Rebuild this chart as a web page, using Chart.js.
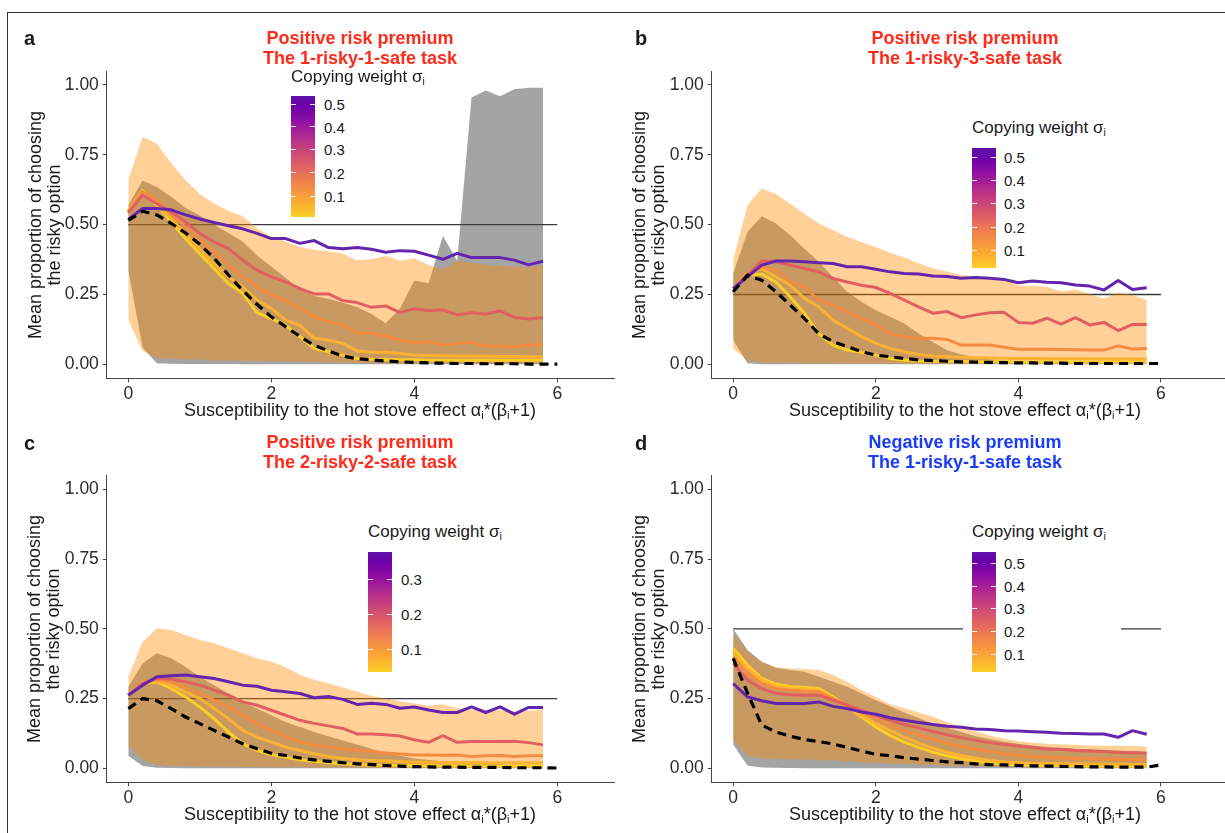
<!DOCTYPE html>
<html>
<head>
<meta charset="utf-8">
<script src="https://cdn.jsdelivr.net/npm/chart.js@4.4.1/dist/chart.umd.min.js"></script>
<style>
  body { margin: 0; background: #fff; font-family: "Liberation Sans", Arial, sans-serif; }
  #fig { position: relative; width: 1225px; height: 833px; overflow: hidden; background: #fff; }
  .frame { position: absolute; left: 7px; top: 12px; width: 1240px; height: 840px; border-left: 1px solid #333; border-top: 1px solid #333; }
  canvas { position: absolute; }
  .t { position: absolute; z-index: 2; white-space: nowrap; color: #1a1a1a; transform: translate(-50%, -50%); }
  .l { position: absolute; z-index: 2; white-space: nowrap; color: #1a1a1a; transform: translateY(-50%); }
  .head { font-weight: bold; font-size: 18px; line-height: 19.5px; text-align: center; }
  .letter { font-weight: bold; font-size: 20px; }
  .xt { font-size: 18px; }
  .yt { font-size: 18px; line-height: 19px; text-align: center; transform: translate(-50%, -50%) rotate(-90deg); }
  .lt { font-size: 17px; }
  .ll { font-size: 15px; }
  sub { font-size: 62%; vertical-align: -0.3em; line-height: 0; }
  .box { position: absolute; z-index: 1; background: #fff; }
  .bar { position: absolute; z-index: 2; background: linear-gradient(to top, #fccf25 0%, #fca636 14%, #f2844b 28%, #e16462 41%, #cc4778 54%, #b12a90 67%, #8f0da4 80%, #6a00a8 92%, #5d12a8 100%); }
  .tk { position: absolute; z-index: 3; height: 1px; width: 5px; background: rgba(255,255,255,0.9); }
</style>
</head>
<body>
<div id="fig"><div class="frame"></div></div>
<script>
// x positions of the simulated points
const xs = [0, 0.2, 0.4, 0.6, 0.8, 1, 1.2, 1.4, 1.6, 1.8, 2, 2.2, 2.4, 2.6, 2.8, 3, 3.2, 3.4, 3.6, 3.8, 4, 4.2, 4.4, 4.6, 4.8, 5, 5.2, 5.4, 5.6, 5.8];
const xsDash = xs.concat([6]);
const refX = [0, 6];
const xTicks = [0, 2, 4, 6];
const yTicks = [0, 0.25, 0.5, 0.75, 1];

// panel a: positive risk premium, 1-risky-1-safe
const aPurple = [0.519,0.558,0.558,0.553,0.535,0.52,0.508,0.496,0.485,0.469,0.45,0.45,0.433,0.443,0.418,0.414,0.418,0.412,0.401,0.407,0.405,0.391,0.376,0.397,0.382,0.382,0.382,0.373,0.356,0.369];
const aSalmon = [0.542,0.605,0.575,0.545,0.51,0.468,0.438,0.414,0.373,0.337,0.313,0.295,0.271,0.252,0.252,0.228,0.221,0.204,0.209,0.185,0.199,0.192,0.195,0.177,0.185,0.18,0.191,0.168,0.162,0.167];
const aOrange = [0.545,0.617,0.587,0.539,0.492,0.444,0.402,0.355,0.313,0.277,0.248,0.228,0.2,0.17,0.153,0.14,0.113,0.111,0.101,0.087,0.077,0.081,0.069,0.075,0.079,0.066,0.066,0.064,0.069,0.069];
const aGold = [0.548,0.623,0.575,0.521,0.468,0.414,0.361,0.313,0.277,0.23,0.2,0.158,0.14,0.093,0.087,0.075,0.048,0.043,0.043,0.039,0.033,0.032,0.031,0.03,0.03,0.029,0.028,0.028,0.027,0.027];
const aYellow = [0.55,0.62,0.57,0.51,0.45,0.396,0.343,0.289,0.254,0.185,0.164,0.14,0.099,0.057,0.045,0.033,0.021,0.018,0.017,0.016,0.016,0.015,0.015,0.015,0.015,0.015,0.015,0.015,0.015,0.015];
const aDash = [0.515,0.548,0.535,0.505,0.47,0.43,0.38,0.32,0.265,0.215,0.17,0.135,0.1,0.068,0.048,0.03,0.02,0.016,0.012,0.009,0.007,0.005,0.004,0.003,0.003,0.002,0.002,0.002,0.001,0.001,0.001];
const aBandHi = [0.66,0.815,0.79,0.72,0.66,0.61,0.576,0.55,0.53,0.487,0.457,0.44,0.42,0.41,0.405,0.397,0.373,0.376,0.388,0.371,0.38,0.356,0.34,0.371,0.364,0.356,0.353,0.35,0.347,0.356];
const aBandLo = [0.158,0.048,0.022,0.02,0.018,0.016,0.015,0.014,0.013,0.012,0.011,0.01,0.009,0.008,0.007,0.006,0.005,0.005,0.004,0.004,0.003,0.003,0.003,0.003,0.002,0.002,0.002,0.002,0.002,0.002];
const aGreyHi = [0.569,0.658,0.635,0.6,0.56,0.533,0.5,0.47,0.44,0.39,0.35,0.31,0.27,0.245,0.235,0.22,0.205,0.18,0.147,0.2,0.3,0.29,0.46,0.37,0.955,0.98,0.96,0.985,0.99,0.99];
const aGreyLo = [0.337,0.06,0.004,0.002,0.001,0.001,0.001,0.001,0,0,0,0,0,0,0,0,0,0,0,0,0,0,0,0,0,0,0,0,0,0];

// panel b: positive risk premium, 1-risky-3-safe
const bPurple = [0.271,0.313,0.355,0.37,0.37,0.367,0.364,0.361,0.349,0.349,0.34,0.331,0.325,0.323,0.316,0.314,0.308,0.311,0.308,0.304,0.292,0.298,0.294,0.292,0.284,0.28,0.266,0.3,0.268,0.274];
const bSalmon = [0.271,0.319,0.37,0.367,0.355,0.343,0.331,0.307,0.295,0.283,0.275,0.254,0.23,0.206,0.183,0.189,0.167,0.177,0.185,0.186,0.15,0.147,0.165,0.144,0.167,0.141,0.15,0.121,0.143,0.143];
const bOrange = [0.271,0.325,0.349,0.337,0.295,0.277,0.23,0.212,0.188,0.164,0.14,0.11,0.099,0.093,0.093,0.089,0.069,0.069,0.069,0.061,0.054,0.054,0.054,0.053,0.052,0.051,0.051,0.066,0.055,0.057];
const bGold = [0.271,0.325,0.343,0.313,0.283,0.236,0.206,0.158,0.129,0.099,0.075,0.057,0.045,0.035,0.03,0.027,0.025,0.024,0.023,0.022,0.021,0.021,0.02,0.02,0.02,0.02,0.019,0.019,0.019,0.019];
const bYellow = [0.271,0.319,0.323,0.295,0.242,0.182,0.11,0.069,0.051,0.042,0.033,0.021,0.015,0.012,0.011,0.01,0.01,0.009,0.009,0.009,0.009,0.008,0.008,0.008,0.008,0.008,0.008,0.008,0.008,0.008];
const bDash = [0.26,0.319,0.301,0.26,0.212,0.164,0.11,0.081,0.063,0.045,0.033,0.027,0.021,0.016,0.013,0.011,0.009,0.008,0.007,0.006,0.005,0.005,0.004,0.004,0.003,0.003,0.003,0.003,0.003,0.003,0.003];
const bBandHi = [0.373,0.569,0.629,0.61,0.575,0.539,0.504,0.48,0.456,0.438,0.42,0.399,0.382,0.362,0.344,0.332,0.32,0.314,0.311,0.308,0.282,0.28,0.278,0.262,0.268,0.252,0.236,0.257,0.248,0.23];
const bBandLo = [0.057,0.015,0.006,0.005,0.005,0.004,0.004,0.004,0.003,0.003,0.003,0.003,0.002,0.002,0.002,0.002,0.002,0.002,0.002,0.002,0.002,0.002,0.002,0.002,0.002,0.002,0.002,0.002,0.002,0.002];
const bGreyHi = [0.325,0.474,0.53,0.504,0.462,0.414,0.367,0.313,0.26,0.224,0.194,0.17,0.146,0.11,0.08,0.05,0.035,0.025,0.018,0.014,0.012,0.01,0.009,0.008,0.007,0.006,0.006,0.005,0.005,0.005];
const bGreyLo = [0.087,0.004,0,0,0,0,0,0,0,0,0,0,0,0,0,0,0,0,0,0,0,0,0,0,0,0,0,0,0,0];

// panel c: positive risk premium, 2-risky-2-safe
const cPurple = [0.262,0.298,0.328,0.332,0.334,0.328,0.322,0.31,0.298,0.294,0.28,0.274,0.268,0.253,0.257,0.247,0.229,0.233,0.229,0.215,0.22,0.209,0.2,0.2,0.22,0.2,0.22,0.194,0.218,0.218];
const cSalmon = [0.262,0.304,0.322,0.32,0.31,0.298,0.28,0.262,0.238,0.226,0.208,0.19,0.172,0.161,0.152,0.143,0.123,0.123,0.12,0.116,0.102,0.093,0.117,0.093,0.096,0.096,0.096,0.097,0.092,0.084];
const cOrange = [0.262,0.31,0.318,0.31,0.292,0.268,0.244,0.22,0.19,0.16,0.136,0.114,0.095,0.083,0.076,0.07,0.065,0.06,0.055,0.051,0.048,0.048,0.047,0.048,0.042,0.045,0.046,0.042,0.045,0.045];
const cGold = [0.262,0.31,0.314,0.298,0.274,0.25,0.214,0.178,0.136,0.112,0.094,0.076,0.064,0.052,0.042,0.035,0.031,0.028,0.026,0.024,0.022,0.022,0.021,0.021,0.021,0.02,0.02,0.02,0.02,0.02];
const cYellow = [0.262,0.304,0.31,0.286,0.256,0.22,0.178,0.13,0.088,0.064,0.049,0.04,0.031,0.025,0.02,0.016,0.014,0.012,0.011,0.01,0.01,0.009,0.009,0.009,0.008,0.008,0.008,0.008,0.008,0.008];
const cDash = [0.214,0.25,0.242,0.214,0.184,0.16,0.136,0.112,0.088,0.07,0.054,0.046,0.037,0.03,0.025,0.02,0.016,0.013,0.01,0.008,0.006,0.005,0.004,0.004,0.003,0.003,0.003,0.002,0.002,0.002,0.001];
const cBandHi = [0.328,0.454,0.502,0.496,0.478,0.46,0.448,0.43,0.412,0.394,0.382,0.362,0.335,0.317,0.305,0.29,0.275,0.26,0.25,0.24,0.232,0.225,0.23,0.216,0.21,0.21,0.208,0.204,0.206,0.21];
const cBandLo = [0.08,0.03,0.012,0.009,0.008,0.007,0.006,0.006,0.005,0.005,0.004,0.004,0.004,0.003,0.003,0.003,0.003,0.002,0.002,0.002,0.002,0.002,0.002,0.002,0.002,0.002,0.002,0.002,0.002,0.002];
const cGreyHi = [0.292,0.376,0.412,0.394,0.364,0.328,0.298,0.268,0.238,0.214,0.19,0.166,0.148,0.13,0.115,0.1,0.085,0.07,0.055,0.045,0.035,0.03,0.025,0.022,0.02,0.017,0.015,0.013,0.011,0.01];
const cGreyLo = [0.045,0.008,0.002,0.001,0,0,0,0,0,0,0,0,0,0,0,0,0,0,0,0,0,0,0,0,0,0,0,0,0,0];

// panel d: negative risk premium, 1-risky-1-safe
const dPurple = [0.304,0.256,0.242,0.232,0.232,0.232,0.238,0.222,0.214,0.202,0.194,0.181,0.172,0.164,0.157,0.151,0.147,0.141,0.139,0.135,0.134,0.131,0.129,0.126,0.125,0.123,0.123,0.111,0.135,0.122];
const dSalmon = [0.376,0.316,0.286,0.268,0.264,0.262,0.262,0.244,0.226,0.208,0.19,0.172,0.157,0.145,0.132,0.12,0.11,0.1,0.092,0.085,0.08,0.075,0.068,0.068,0.064,0.062,0.06,0.057,0.056,0.054];
const dOrange = [0.4,0.34,0.304,0.286,0.28,0.276,0.274,0.25,0.226,0.202,0.178,0.154,0.136,0.12,0.105,0.09,0.078,0.068,0.06,0.052,0.046,0.042,0.04,0.037,0.035,0.034,0.033,0.032,0.031,0.03];
const dGold = [0.418,0.358,0.316,0.294,0.286,0.284,0.28,0.25,0.22,0.19,0.16,0.136,0.112,0.09,0.072,0.058,0.045,0.036,0.028,0.023,0.02,0.018,0.017,0.016,0.016,0.015,0.015,0.015,0.014,0.014];
const dYellow = [0.43,0.37,0.322,0.302,0.292,0.29,0.286,0.256,0.222,0.184,0.148,0.118,0.094,0.075,0.058,0.045,0.034,0.026,0.02,0.015,0.012,0.011,0.01,0.01,0.009,0.008,0.008,0.008,0.007,0.007];
const dDash = [0.394,0.27,0.155,0.13,0.115,0.103,0.096,0.087,0.075,0.062,0.05,0.045,0.038,0.033,0.028,0.023,0.02,0.016,0.013,0.012,0.01,0.009,0.008,0.007,0.006,0.005,0.005,0.004,0.004,0.004,0.012];
const dBandHi = [0.484,0.418,0.382,0.362,0.358,0.356,0.352,0.334,0.31,0.28,0.256,0.23,0.215,0.2,0.185,0.165,0.148,0.132,0.118,0.106,0.097,0.092,0.088,0.086,0.084,0.082,0.081,0.08,0.08,0.078];
const dBandLo = [0.1,0.045,0.035,0.033,0.032,0.031,0.03,0.028,0.025,0.022,0.02,0.017,0.015,0.013,0.012,0.01,0.009,0.008,0.007,0.006,0.006,0.005,0.004,0.004,0.003,0.003,0.003,0.002,0.002,0.002];
const dGreyHi = [0.5,0.424,0.382,0.36,0.352,0.346,0.328,0.31,0.292,0.268,0.244,0.222,0.2,0.18,0.16,0.145,0.13,0.115,0.105,0.095,0.088,0.082,0.077,0.073,0.07,0.068,0.066,0.064,0.062,0.06];
const dGreyLo = [0.085,0.01,0.003,0.002,0.001,0,0,0,0,0,0,0,0,0,0,0,0,0,0,0,0,0,0,0,0,0,0,0,0,0];

const lineColors = ['#FCCD25', '#FBB231', '#F48B41', '#E1605F', '#6425AE'];

const panels = [
  { letter: 'a', head: ['Positive risk premium', 'The 1-risky-1-safe task'], headColor: '#FF2A1A', refY: 0.5,
    left: 0, top: 0, w: 615, h: 420, yW: 106.85, padTop: 71, xH: 41.7, xMax: 6.807,
    lines: [aYellow, aGold, aOrange, aSalmon, aPurple], dash: aDash, band: [aBandLo, aBandHi], grey: [aGreyLo, aGreyHi],
    cx: 360, headY: [38.3, 57.7], xtY: 409.5, ytX: 45, ytY: 224.7,
    leg: { box: [283, 67, 160, 155], title: [291, 77], bar: [291, 96, 24, 121], labX: 324, labs: ['0.5','0.4','0.3','0.2','0.1'], labY: [104.3, 126.7, 149.3, 172.7, 196] } },
  { letter: 'b', head: ['Positive risk premium', 'The 1-risky-3-safe task'], headColor: '#FF2A1A', refY: 0.25,
    left: 610, top: 0, w: 615, h: 420, yW: 101.8, padTop: 71, xH: 41.7, xMax: 6.898,
    lines: [bYellow, bGold, bOrange, bSalmon, bPurple], dash: bDash, band: [bBandLo, bBandHi], grey: [bGreyLo, bGreyHi],
    cx: 965, headY: [38.3, 57.7], xtY: 409.5, ytX: 649, ytY: 224.7,
    leg: { box: [962, 115, 160, 157], title: [972, 128], bar: [972, 148, 24, 120], labX: 1004, labs: ['0.5','0.4','0.3','0.2','0.1'], labY: [157, 180, 203, 227, 250] } },
  { letter: 'c', head: ['Positive risk premium', 'The 2-risky-2-safe task'], headColor: '#FF2A1A', refY: 0.25,
    left: 0, top: 410, w: 615, h: 423, yW: 106.85, padTop: 65.35, xH: 50.75, xMax: 6.807,
    lines: [cYellow, cGold, cOrange, cSalmon, cPurple], dash: cDash, band: [cBandLo, cBandHi], grey: [cGreyLo, cGreyHi],
    cx: 360, headY: [442.7, 461.7], xtY: 814, ytX: 44, ytY: 628.8,
    leg: { box: [360, 518, 160, 162], title: [368, 532], bar: [368, 552, 24, 120], labX: 401, labs: ['0.3','0.2','0.1'], labY: [579, 614, 649] } },
  { letter: 'd', head: ['Negative risk premium', 'The 1-risky-1-safe task'], headColor: '#1A3CF5', refY: 0.5,
    left: 610, top: 410, w: 615, h: 423, yW: 101.8, padTop: 65.35, xH: 50.75, xMax: 6.898,
    lines: [dYellow, dGold, dOrange, dSalmon, dPurple], dash: dDash, band: [dBandLo, dBandHi], grey: [dGreyLo, dGreyHi],
    cx: 965, headY: [442.7, 461.7], xtY: 814, ytX: 649, ytY: 628.8,
    leg: { box: [963, 518, 158, 162], title: [972, 532], bar: [972, 552, 24, 120], labX: 1004, labs: ['0.5','0.4','0.3','0.2','0.1'], labY: [563, 586, 608, 631, 654] } }
];

const fig = document.getElementById('fig');
const fontFam = '"Liberation Sans", Arial, sans-serif';

function pts(xv, yv) { return yv.map((y, i) => ({ x: xv[i], y: y })); }

function addText(cls, x, y, html, color) {
  const d = document.createElement('div');
  d.className = cls;
  d.style.left = x + 'px';
  d.style.top = y + 'px';
  if (color) d.style.color = color;
  d.innerHTML = html;
  fig.appendChild(d);
  return d;
}

function ribbon(lo, hi, color, order) {
  return [
    { data: pts(xs, lo), borderWidth: 0, pointRadius: 0, fill: false, order: order + 1 },
    { data: pts(xs, hi), borderWidth: 0, pointRadius: 0, fill: '-1', backgroundColor: color, order: order }
  ];
}

panels.forEach(p => {
  const cv = document.createElement('canvas');
  cv.width = p.w; cv.height = p.h;
  cv.style.left = p.left + 'px'; cv.style.top = p.top + 'px';
  cv.style.width = p.w + 'px'; cv.style.height = p.h + 'px';
  fig.appendChild(cv);

  // drawing order: grey ribbon, reference line, orange ribbon, coloured lines, dashed line
  const ds = [];
  ds.push(...ribbon(p.grey[0], p.grey[1], '#A4A4A4', 90));
  ds.push({ data: pts(refX, [p.refY, p.refY]), borderColor: '#3a3a3a', borderWidth: 1.3, pointRadius: 0, fill: false, order: 85 });
  ds.push(...ribbon(p.band[0], p.band[1], 'rgba(255,140,0,0.4)', 80));
  p.lines.forEach((arr, i) => {
    ds.push({ data: pts(xs, arr), borderColor: lineColors[i], borderWidth: 3, pointRadius: 0, fill: false, order: 50 - i * 5, borderJoinStyle: 'round' });
  });
  ds.push({ data: pts(xsDash, p.dash), borderColor: '#000', borderWidth: 3.2, borderDash: [9, 6], pointRadius: 0, fill: false, order: 1 });

  new Chart(cv, {
    type: 'line',
    data: { datasets: ds },
    options: {
      responsive: false, animation: false, devicePixelRatio: 1, events: [],
      layout: { padding: { top: p.padTop, left: 0, right: 0, bottom: 0 }, autoPadding: false },
      plugins: { legend: { display: false }, tooltip: { enabled: false }, title: { display: false } },
      elements: { line: { tension: 0 } },
      scales: {
        x: {
          type: 'linear', min: -0.3, max: p.xMax,
          afterBuildTicks: s => { s.ticks = xTicks.map(v => ({ value: v })); },
          afterFit: s => { s.height = p.xH; },
          grid: { drawOnChartArea: false, drawTicks: true, tickLength: 4, color: '#444', lineWidth: 1 },
          border: { display: true, color: '#444', width: 1 },
          ticks: { color: '#2b2b2b', padding: 1, maxRotation: 0, font: { family: fontFam, size: 17.5 }, callback: v => String(v) }
        },
        y: {
          type: 'linear', min: -0.05, max: 1.05,
          afterBuildTicks: s => { s.ticks = yTicks.map(v => ({ value: v })); },
          afterFit: s => { s.width = p.yW; },
          grid: { drawOnChartArea: false, drawTicks: true, tickLength: 4, color: '#444', lineWidth: 1 },
          border: { display: true, color: '#444', width: 1 },
          ticks: { color: '#2b2b2b', padding: 4, font: { family: fontFam, size: 17.5 }, callback: v => Number(v).toFixed(2) }
        }
      }
    }
  });

  // texts
  addText('l letter', p.left + (p.left ? 25 : 24), p.headY[0], p.letter);
  addText('t head', p.cx, (p.headY[0] + p.headY[1]) / 2, p.head.join('<br>'), p.headColor);
  addText('t xt', p.cx, p.xtY, 'Susceptibility to the hot stove effect &alpha;<sub>i</sub>*(&beta;<sub>i</sub>+1)');
  addText('t yt', p.ytX, p.ytY, 'Mean proportion of choosing<br>the risky option');

  // colour bar legend
  const L = p.leg;
  const box = document.createElement('div');
  box.className = 'box';
  box.style.left = L.box[0] + 'px'; box.style.top = L.box[1] + 'px';
  box.style.width = L.box[2] + 'px'; box.style.height = L.box[3] + 'px';
  fig.appendChild(box);
  addText('l lt', L.title[0], L.title[1], 'Copying weight &sigma;<sub>i</sub>');
  const bar = document.createElement('div');
  bar.className = 'bar';
  bar.style.left = L.bar[0] + 'px'; bar.style.top = L.bar[1] + 'px';
  bar.style.width = L.bar[2] + 'px'; bar.style.height = L.bar[3] + 'px';
  fig.appendChild(bar);
  L.labs.forEach((lab, i) => {
    addText('l ll', L.labX, L.labY[i], lab);
    [L.bar[0], L.bar[0] + L.bar[2] - 5].forEach(tx => {
      const t = document.createElement('div');
      t.className = 'tk';
      t.style.left = tx + 'px'; t.style.top = (L.labY[i] - 0.5) + 'px';
      fig.appendChild(t);
    });
  });
});
</script>
</body>
</html>
